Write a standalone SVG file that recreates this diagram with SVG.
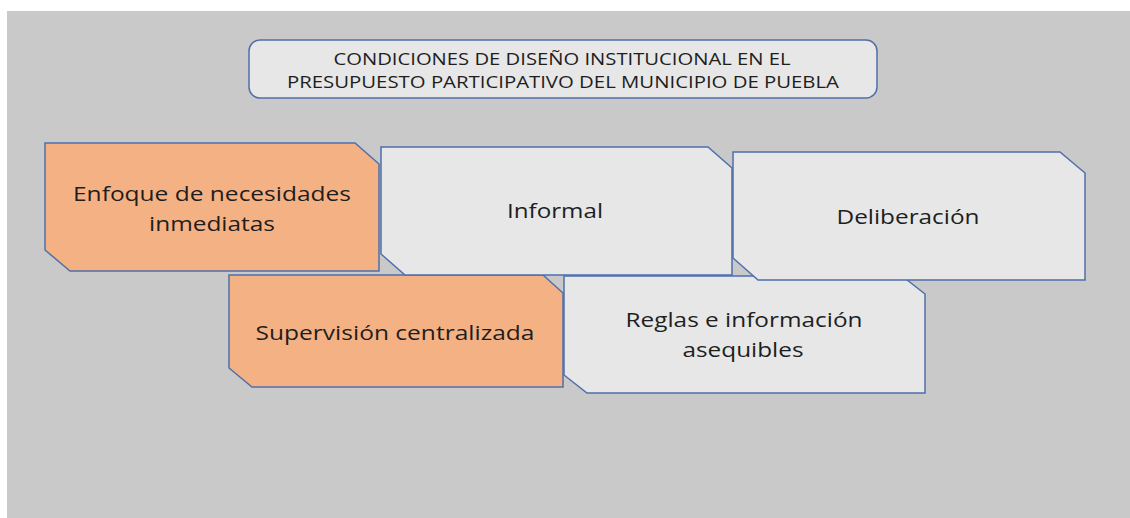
<svg xmlns="http://www.w3.org/2000/svg" width="1130" height="518" viewBox="0 0 1130 518">
<style>
.bg{fill:#c9c9c9}
.box{stroke:#4f6faa;stroke-width:1.5;stroke-linejoin:miter}
.orange{fill:#f4b183}
.grey{fill:#e7e7e7}
.t{font-family:"Open Sans","Liberation Sans",sans-serif;fill:#1e1e1e;text-anchor:middle}
.n{font-size:20px}
.h{font-size:17px}
</style>
<rect x="0" y="0" width="1130" height="518" fill="#ffffff"/>
<rect class="bg" x="7" y="11" width="1123" height="507"/>
<g id="title">
<rect class="box grey" x="249" y="40" width="628" height="58" rx="11" ry="11"/>
<text class="t h" x="562" y="65" textLength="457" lengthAdjust="spacingAndGlyphs">CONDICIONES DE DISEÑO INSTITUCIONAL EN EL</text>
<text class="t h" x="563" y="88" textLength="552" lengthAdjust="spacingAndGlyphs">PRESUPUESTO PARTICIPATIVO DEL MUNICIPIO DE PUEBLA</text>
</g>
<g id="connectors"></g>
<g id="node-enfoque">
<polygon class="box orange" points="45,143 355,143 379,164 379,271 70,271 45,250"/>
<text class="t n" x="212" y="201" textLength="278" lengthAdjust="spacingAndGlyphs">Enfoque de necesidades</text>
<text class="t n" x="212" y="231" textLength="126" lengthAdjust="spacingAndGlyphs">inmediatas</text>
</g>
<g id="node-supervision">
<polygon class="box orange" points="229,275 543,275 563,293 563,387 252,387 229,368"/>
<text class="t n" x="395" y="340" textLength="279" lengthAdjust="spacingAndGlyphs">Supervisión centralizada</text>
</g>
<g id="node-reglas">
<polygon class="box grey" points="564,276 902,276 925,294 925,393 587,393 564,375"/>
<text class="t n" x="744" y="327" textLength="237" lengthAdjust="spacingAndGlyphs">Reglas e información</text>
<text class="t n" x="743" y="357" textLength="121" lengthAdjust="spacingAndGlyphs">asequibles</text>
</g>
<g id="node-informal">
<polygon class="box grey" points="381,147 708,147 732,168 732,275 405,275 381,254"/>
<text class="t n" x="555" y="218" textLength="96" lengthAdjust="spacingAndGlyphs">Informal</text>
</g>
<g id="node-deliberacion">
<polygon class="box grey" points="733,152 1060,152 1085,173 1085,280 758,280 733,258"/>
<text class="t n" x="908" y="224" textLength="143" lengthAdjust="spacingAndGlyphs">Deliberación</text>
</g>
</svg>
